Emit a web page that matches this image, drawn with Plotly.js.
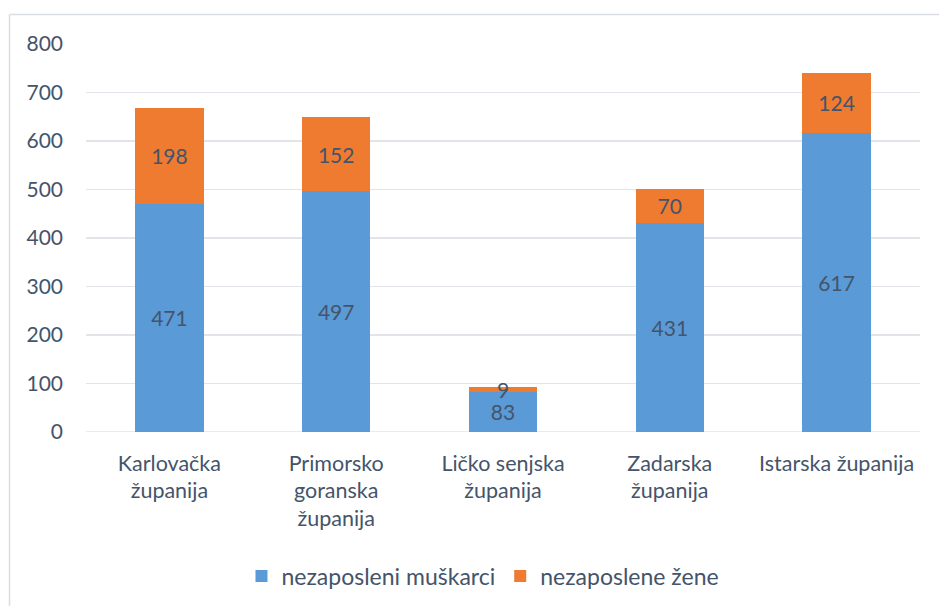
<!DOCTYPE html>
<html>
<head>
<meta charset="utf-8">
<script src="https://cdn.plot.ly/plotly-3.0.1.min.js"></script>
<style>html,body{margin:0;padding:0;background:#fff;}#chart{width:939px;height:606px;}</style>
</head>
<body>
<div id="chart"></div>
<script>
var categories = ["Karlovačka<br>županija", "Primorsko<br>goranska<br>županija", "Ličko senjska<br>županija", "Zadarska<br>županija", "Istarska županija"];
var muskarci = [471, 497, 83, 431, 617];
var zene = [198, 152, 9, 70, 124];
var seriesNames = ["nezaposleni muškarci", "nezaposlene žene"];
var yTicks = [0, 100, 200, 300, 400, 500, 600, 700, 800];

var fontFam = "Lato, 'Open Sans', sans-serif";
var textCol = "#44546a";
var lblFont = {family: fontFam, size: 21, color: textCol};

var traces = [
  {type: "bar", x: categories, y: muskarci, name: seriesNames[0],
   marker: {color: "#5a9ad7"}, text: muskarci.map(String), textangle: 0,
   textposition: "inside", insidetextanchor: "middle", constraintext: "none",
   textfont: lblFont, hoverinfo: "skip"},
  {type: "bar", x: categories, y: zene, name: seriesNames[1],
   marker: {color: "#ee7b30"}, text: zene.map(String), textangle: 0,
   textposition: "inside", insidetextanchor: "middle", constraintext: "none",
   textfont: lblFont, hoverinfo: "skip"}
];

function px2x(p){ return (p - 86) / 834; }
function px2y(p){ return (432 - p) / 388; }

var layout = {
  width: 939, height: 606,
  margin: {l: 86, r: 19, t: 44, b: 174},
  barmode: "stack", bargap: 0.59,
  paper_bgcolor: "#ffffff", plot_bgcolor: "#ffffff",
  font: {family: fontFam, size: 21, color: textCol},
  uniformtext: {mode: "show", minsize: 21},
  xaxis: {showgrid: false, zeroline: false, showline: false, ticks: "", automargin: false,
          tickfont: {family: fontFam, size: 21.5, color: textCol}, ticklabelstandoff: 16},
  yaxis: {range: [0, 800], tickvals: yTicks, showgrid: true, gridcolor: "#e1e5ea", gridwidth: 1.5,
          zeroline: false, showline: false, ticks: "", automargin: false,
          tickfont: {family: fontFam, size: 21, color: textCol}, ticklabelstandoff: 22},
  showlegend: true,
  legend: {orientation: "h", x: 0.476, xanchor: "center", yref: "container", y: 1 - 576 / 606, yanchor: "middle",
           font: {family: fontFam, size: 23, color: textCol}, itemwidth: 30, traceorder: "normal"},
  shapes: [
    {type: "line", xref: "paper", yref: "paper", x0: px2x(9.5), x1: px2x(9.5), y0: px2y(14.5), y1: px2y(620), line: {color: "#d9dde4", width: 1.5}},
    {type: "line", xref: "paper", yref: "paper", x0: px2x(9.5), x1: px2x(950), y0: px2y(14.5), y1: px2y(14.5), line: {color: "#d9dde4", width: 1.5}},
    {type: "line", xref: "paper", yref: "y", x0: 0, x1: 1, y0: 0, y1: 0, line: {color: "#e1e5ea", width: 1.5}, layer: "below"}
  ]
};

Plotly.newPlot("chart", traces, layout, {displayModeBar: false, staticPlot: true});
</script>
</body>
</html>
